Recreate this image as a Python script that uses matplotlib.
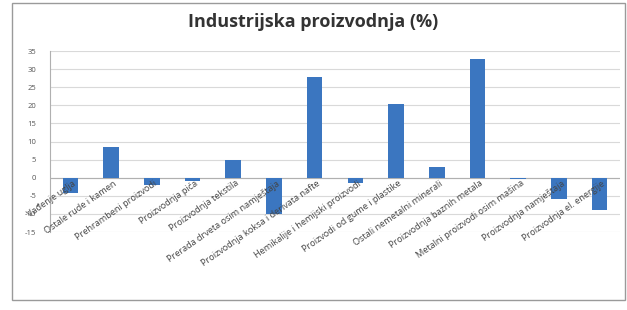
import matplotlib
matplotlib.use("Agg")
import matplotlib.pyplot as plt
from matplotlib.patches import Rectangle

plt.rcParams["font.family"] = ["Open Sans", "DejaVu Sans"]

categories = [
    "Vađenje uglja",
    "Ostale rude i kamen",
    "Prehrambeni proizvodi",
    "Proizvodnja pića",
    "Proizvodnja tekstila",
    "Prerada drveta osim namještaja",
    "Proizvodnja koksa i derivata nafte",
    "Hemikalije i hemijski proizvodi",
    "Proizvodi od gume i plastike",
    "Ostali nemetalni minerali",
    "Proizvodnja baznih metala",
    "Metalni proizvodi osim mašina",
    "Proizvodnja namještaja",
    "Proizvodnja el. energije",
]
values = [-4.2, 8.5, -2.0, -1.0, 4.9, -10.0, 27.9, -1.5, 20.4, 2.9, 32.9, -0.3, -6.0, -8.8]
yticks = [-15, -10, -5, 0, 5, 10, 15, 20, 25, 30, 35]
title = "Industrijska proizvodnja (%)"

fig = plt.figure(figsize=(6.27, 3.10), dpi=100)
fig.patch.set_facecolor("white")
# outer chart frame
fig.patches.append(Rectangle((12/627, 1-300/310), 613/627, 297/310, transform=fig.transFigure,
                             fill=False, edgecolor="#9a9a9a", linewidth=1.0))

ax = fig.add_axes([50/627, 1-232/310, 570/627, 181/310])
x = list(range(len(categories)))
ax.bar(x, values, width=0.38, color="#3B76C0", zorder=3)
ax.set_xlim(-0.5, len(categories) - 0.5)
ax.set_ylim(-15, 35)
ax.set_yticks(yticks)
ax.set_yticklabels([str(v) for v in yticks], fontsize=5.5, color="#555555")
ax.tick_params(axis="y", length=0, pad=10)
ax.set_xticks([])
ax.grid(axis="y", color="#d9d9d9", linewidth=0.8, zorder=0)
for s in ["top", "right", "bottom"]:
    ax.spines[s].set_visible(False)
ax.spines["left"].set_color("#b0b0b0")
ax.axhline(0, color="#b0b0b0", linewidth=0.8, zorder=2)

for i, lab in enumerate(categories):
    ax.text(i + 0.05, -0.3, lab, rotation=35, ha="right", va="top", rotation_mode="anchor",
            fontsize=6.6, color="#444444", zorder=4)

fig.text(0.5, 1-22/310, title, ha="center", va="center", fontsize=13, fontweight="bold",
         color="#333333")

fig.savefig("out.png", dpi=100)
